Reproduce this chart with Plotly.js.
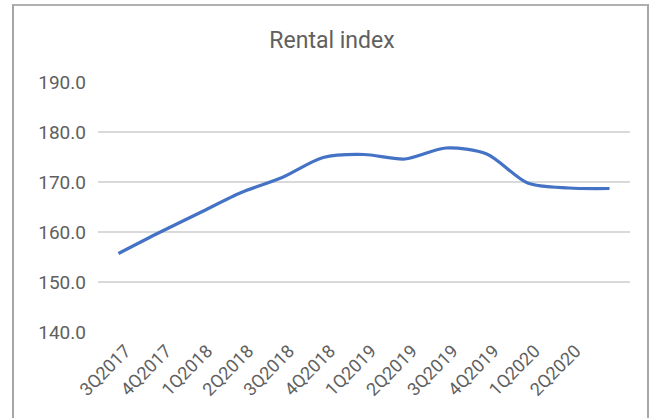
<!DOCTYPE html>
<html>
<head>
<meta charset="utf-8">
<script src="https://cdn.plot.ly/plotly-3.0.1.min.js"></script>
<style>
  html, body { margin: 0; padding: 0; background: #fff; }
  #wrap { position: relative; width: 650px; height: 418px; overflow: hidden; }
  #chart { width: 650px; height: 418px; }
  #frame { position: absolute; left: 12px; top: 4px; width: 633px; height: 430px;
           border-left: 2px solid #a6a6a6; border-right: 2px solid #a6a6a6; border-top: 2px solid #b0b0b0;
           pointer-events: none; }
</style>
</head>
<body>
<div id="wrap">
  <div id="chart"></div>
  <div id="frame"></div>
</div>
<script>
// Quarterly categories (13 points; the last has no label in the reference)
const quarters = ["3Q2017","4Q2017","1Q2018","2Q2018","3Q2018","4Q2018","1Q2019","2Q2019","3Q2019","4Q2019","1Q2020","2Q2020",""];
const rentalIndex = [155.7, 159.9, 163.9, 167.9, 170.9, 174.9, 175.5, 174.6, 176.8, 175.6, 169.8, 168.8, 168.7];
const yTicks = [140, 150, 160, 170, 180, 190];

const xIdx = quarters.map((q, i) => i);

const trace = {
  x: xIdx,
  y: rentalIndex,
  type: 'scatter',
  mode: 'lines',
  line: { color: '#4472C4', width: 3.2, shape: 'spline', smoothing: 0.8 },
  hoverinfo: 'skip'
};

const textGray = '#606060';

const layout = {
  width: 650, height: 418,
  margin: { l: 98, r: 20, t: 82, b: 86 },
  paper_bgcolor: '#ffffff', plot_bgcolor: '#ffffff',
  showlegend: false,
  font: { family: 'Roboto, sans-serif', color: textGray },
  title: {
    text: 'Rental index',
    font: { family: 'Roboto, sans-serif', size: 23, color: textGray },
    x: 332 / 650, xanchor: 'center', xref: 'container',
    y: 1 - 40 / 418, yanchor: 'middle', yref: 'container'
  },
  xaxis: {
    range: [-0.5, quarters.length - 0.5],
    tickmode: 'array',
    tickvals: xIdx,
    ticktext: quarters,
    tickangle: -45,
    tickfont: { family: 'Roboto, sans-serif', size: 18, color: textGray },
    ticklabelshift: 7,
    ticklabelstandoff: 4,
    showgrid: false, zeroline: false,
    showline: false,
    ticks: '',
    fixedrange: true
  },
  yaxis: {
    range: [140, 190],
    tickmode: 'array',
    tickvals: yTicks,
    ticktext: yTicks.map(v => v.toFixed(1)),
    tickfont: { family: 'Roboto, sans-serif', size: 19, color: textGray },
    showgrid: true, gridcolor: '#d9d9d9', gridwidth: 1.5,
    zeroline: false, showline: false, ticks: '',
    ticklabelstandoff: 11,
    fixedrange: true
  }
};

Plotly.newPlot('chart', [trace], layout, { displayModeBar: false, staticPlot: true });
</script>
</body>
</html>
